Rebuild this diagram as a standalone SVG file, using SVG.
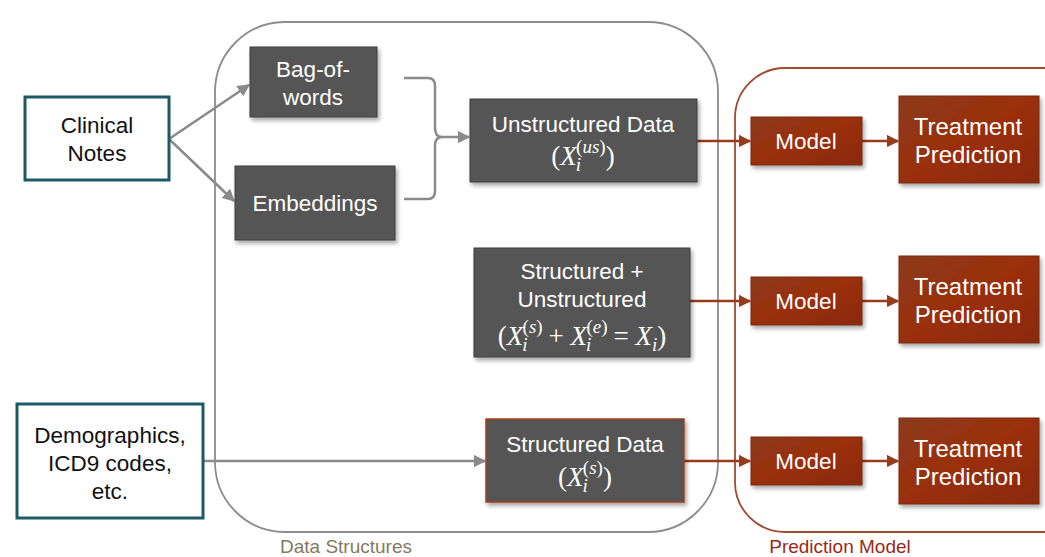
<svg xmlns="http://www.w3.org/2000/svg" width="1045" height="557" viewBox="0 0 1045 557">
  <defs>
    <linearGradient id="redFill" x1="0" y1="0" x2="1" y2="1">
      <stop offset="0" stop-color="#8c3a1c"/>
      <stop offset="0.5" stop-color="#9a2f0b"/>
      <stop offset="1" stop-color="#8a2a08"/>
    </linearGradient>
    <filter id="shadow" x="-10%" y="-10%" width="125%" height="130%">
      <feDropShadow dx="2" dy="3" stdDeviation="2" flood-color="#000" flood-opacity="0.35"/>
    </filter>
    <marker id="arrGray" viewBox="0 0 10 10" refX="9" refY="5" markerWidth="5" markerHeight="5" orient="auto">
      <path d="M0,0 L10,5 L0,10 z" fill="#8a8a8a"/>
    </marker>
    <marker id="arrRed" viewBox="0 0 10 10" refX="9" refY="5" markerWidth="5" markerHeight="5" orient="auto">
      <path d="M0,0 L10,5 L0,10 z" fill="#9a3a1c"/>
    </marker>
  </defs>
  <style>
    .label { font-family: "Liberation Sans", Arial, sans-serif; text-anchor: middle; }
    .dark { fill: #555555; stroke: #3c3c3c; stroke-width: 1; filter: url(#shadow); }
    .red { fill: url(#redFill); stroke: #7a2a10; stroke-width: 1; filter: url(#shadow); }
    .input { fill: #ffffff; stroke: #1c5a66; stroke-width: 3; }
    .wt { fill: #ffffff; font-size: 22.5px; }
    .tp { fill: #ffffff; font-size: 24px; }
    .bk { fill: #111111; font-size: 22.5px; }
    .math { font-family: "Liberation Serif", "Times New Roman", serif; font-style: italic; fill: #ffffff; font-size: 27px; text-anchor: middle; }
    .up { font-style: normal; }
    .sub { font-size: 19px; }
    .gray { fill: none; stroke: #8a8a8a; stroke-width: 2.5; }
    .redline { fill: none; stroke: #9a3a1c; stroke-width: 2.5; }
  </style>

  <!-- containers -->
  <g id="data-structures">
    <rect x="215" y="22" width="503" height="510" rx="70" ry="70" fill="none" stroke="#8c8c8c" stroke-width="1.8"/>
    <text class="label" x="346" y="553" font-size="19" fill="#857a5e">Data Structures</text>
  </g>
  <g id="prediction-model">
    <rect x="735" y="68" width="360" height="464" rx="50" ry="50" fill="none" stroke="#a24a30" stroke-width="1.8"/>
    <text class="label" x="840" y="553" font-size="19" fill="#9a2a18">Prediction Model</text>
  </g>

  <!-- connectors -->
  <g id="connectors">
    <line class="gray" x1="169" y1="139" x2="249" y2="85" marker-end="url(#arrGray)"/>
    <line class="gray" x1="169" y1="139" x2="234" y2="201" marker-end="url(#arrGray)"/>
    <path class="gray" d="M404,78 H428 Q435,78 435,86 V128 Q435,137 442,137 Q435,137 435,146 V191 Q435,199 428,199 H404"/>
    <line class="gray" x1="442" y1="137" x2="469" y2="137" marker-end="url(#arrGray)"/>
    <line class="gray" x1="203" y1="461" x2="485" y2="461" marker-end="url(#arrGray)"/>
    <line class="redline" x1="697" y1="141" x2="750" y2="141" marker-end="url(#arrRed)"/>
    <line class="redline" x1="690" y1="301" x2="750" y2="301" marker-end="url(#arrRed)"/>
    <line class="redline" x1="684" y1="461" x2="750" y2="461" marker-end="url(#arrRed)"/>
    <line class="redline" x1="862" y1="141" x2="898" y2="141" marker-end="url(#arrRed)"/>
    <line class="redline" x1="862" y1="301" x2="898" y2="301" marker-end="url(#arrRed)"/>
    <line class="redline" x1="862" y1="461" x2="898" y2="461" marker-end="url(#arrRed)"/>
  </g>

  <!-- inputs -->
  <g id="clinical-notes">
    <rect class="input" x="25" y="97" width="144" height="83"/>
    <text class="label bk" x="97" y="133">Clinical</text>
    <text class="label bk" x="97" y="161">Notes</text>
  </g>
  <g id="demographics">
    <rect class="input" x="17" y="404" width="186" height="114"/>
    <text class="label bk" x="110" y="443">Demographics,</text>
    <text class="label bk" x="110" y="471">ICD9 codes,</text>
    <text class="label bk" x="110" y="499">etc.</text>
  </g>

  <!-- text representations -->
  <g id="bag-of-words">
    <rect class="dark" x="250" y="47" width="127" height="70"/>
    <text class="label wt" x="313" y="77">Bag-of-</text>
    <text class="label wt" x="313" y="105">words</text>
  </g>
  <g id="embeddings">
    <rect class="dark" x="235" y="166" width="160" height="74"/>
    <text class="label wt" x="315" y="211">Embeddings</text>
  </g>

  <!-- data structures -->
  <g id="unstructured-data">
    <rect class="dark" x="470" y="99" width="227" height="83"/>
    <text class="label wt" x="583" y="132">Unstructured Data</text>
    <text class="math" x="583" y="165"><tspan class="up">(</tspan>X<tspan class="sub" dx="-1" dy="6">i</tspan><tspan class="sub up" dx="-5" dy="-18">(</tspan><tspan class="sub">us</tspan><tspan class="sub up">)</tspan><tspan class="up" dy="12">)</tspan></text>
  </g>
  <g id="structured-unstructured">
    <rect class="dark" x="474" y="248" width="216" height="109"/>
    <text class="label wt" x="582" y="279">Structured +</text>
    <text class="label wt" x="582" y="307">Unstructured</text>
    <text class="math" x="582" y="345"><tspan class="up">(</tspan>X<tspan class="sub" dx="-1" dy="6">i</tspan><tspan class="sub up" dx="-5" dy="-18">(</tspan><tspan class="sub">s</tspan><tspan class="sub up">)</tspan><tspan class="up" dx="6" dy="12">+ </tspan>X<tspan class="sub" dx="-1" dy="6">i</tspan><tspan class="sub up" dx="-5" dy="-18">(</tspan><tspan class="sub">e</tspan><tspan class="sub up">)</tspan><tspan class="up" dx="6" dy="12">=  </tspan>X<tspan class="sub" dy="6">i</tspan><tspan class="up" dy="-6">)</tspan></text>
  </g>
  <g id="structured-data">
    <rect class="dark" x="486" y="419" width="198" height="83" style="stroke:#a0401e;stroke-width:1.5"/>
    <text class="label wt" x="585" y="452">Structured Data</text>
    <text class="math" x="585" y="486"><tspan class="up">(</tspan>X<tspan class="sub" dx="-1" dy="6">i</tspan><tspan class="sub up" dx="-5" dy="-18">(</tspan><tspan class="sub">s</tspan><tspan class="sub up">)</tspan><tspan class="up" dy="12">)</tspan></text>
  </g>

  <!-- prediction models -->
  <g id="model-1">
    <rect class="red" x="751" y="117" width="111" height="48"/>
    <text class="label wt" x="806" y="149">Model</text>
  </g>
  <g id="model-2">
    <rect class="red" x="751" y="277" width="111" height="48"/>
    <text class="label wt" x="806" y="309">Model</text>
  </g>
  <g id="model-3">
    <rect class="red" x="751" y="437" width="111" height="48"/>
    <text class="label wt" x="806" y="469">Model</text>
  </g>
  <g id="prediction-1">
    <rect class="red" x="899" y="96" width="140" height="87"/>
    <text class="label tp" x="968" y="135">Treatment</text>
    <text class="label tp" x="968" y="163">Prediction</text>
  </g>
  <g id="prediction-2">
    <rect class="red" x="899" y="256" width="140" height="87"/>
    <text class="label tp" x="968" y="295">Treatment</text>
    <text class="label tp" x="968" y="323">Prediction</text>
  </g>
  <g id="prediction-3">
    <rect class="red" x="899" y="418" width="140" height="86"/>
    <text class="label tp" x="968" y="457">Treatment</text>
    <text class="label tp" x="968" y="485">Prediction</text>
  </g>
</svg>
